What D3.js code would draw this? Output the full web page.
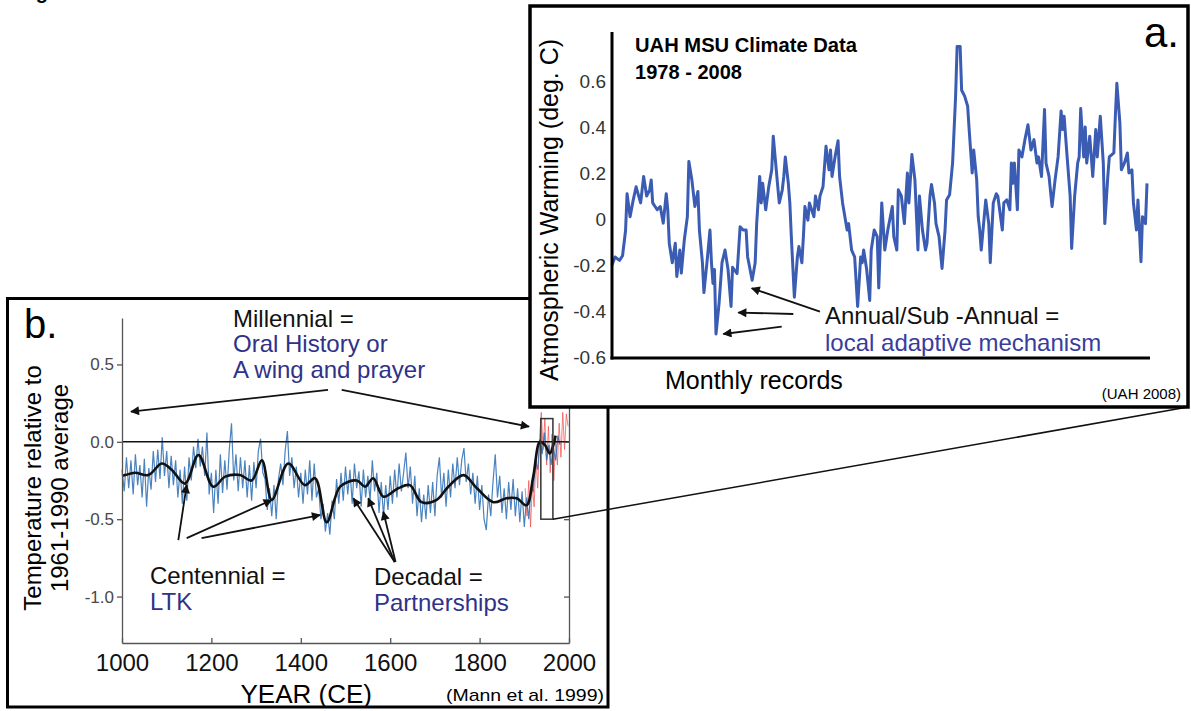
<!DOCTYPE html>
<html><head><meta charset="utf-8">
<script src="https://cdn.jsdelivr.net/npm/d3@7"></script>
<style>
body{margin:0;background:#fff;}
text{font-family:"Liberation Sans",Arial,Helvetica,sans-serif;}
</style></head>
<body>
<svg id="c" width="1191" height="711"></svg>
<script>
// ---------- Panel b data (Mann et al. 1999 reconstruction) ----------
const mannStartYear = 1000, mannStep = 5;
const mannBlue = [
-0.18,-0.32,-0.10,-0.30,-0.12,-0.34,-0.08,-0.28,-0.15,-0.36,
-0.11,-0.42,-0.17,-0.31,-0.06,-0.26,-0.05,-0.24,0.03,-0.22,
-0.06,-0.30,-0.09,-0.28,-0.12,-0.36,-0.18,-0.40,-0.16,-0.38,
-0.10,-0.25,-0.03,-0.17,0.02,-0.16,-0.03,-0.22,0.06,-0.34,
-0.20,-0.46,-0.18,-0.40,-0.08,-0.33,-0.12,-0.31,-0.05,0.12,
-0.25,-0.08,-0.32,-0.10,-0.30,-0.12,-0.36,-0.15,-0.38,-0.13,
-0.30,-0.06,0.02,-0.20,-0.24,-0.44,-0.30,-0.48,-0.28,-0.50,
-0.24,-0.14,-0.28,-0.06,0.07,-0.22,-0.10,-0.30,-0.16,-0.36,
-0.20,-0.40,-0.18,-0.34,-0.12,-0.38,-0.14,-0.36,-0.30,-0.50,
-0.40,-0.58,-0.46,-0.60,-0.38,-0.50,-0.24,-0.40,-0.20,-0.38,
-0.16,-0.34,-0.18,-0.40,-0.14,-0.30,-0.19,-0.42,-0.18,-0.36,
-0.22,-0.38,-0.12,-0.32,-0.20,-0.46,-0.26,-0.48,-0.28,-0.44,
-0.22,-0.40,-0.18,-0.36,-0.14,-0.32,-0.20,-0.07,-0.30,-0.16,
-0.40,-0.22,-0.48,-0.30,-0.52,-0.34,-0.50,-0.28,-0.46,-0.26,
-0.48,-0.22,-0.10,-0.36,-0.20,-0.42,-0.18,-0.36,-0.14,-0.30,
-0.10,-0.28,-0.12,-0.04,-0.26,-0.14,-0.34,-0.20,-0.40,-0.22,
-0.44,-0.28,-0.50,-0.57,-0.34,-0.48,-0.26,-0.08,-0.36,-0.22,
-0.46,-0.30,-0.50,-0.26,-0.44,-0.24,-0.48,-0.30,-0.52,-0.32,
-0.55,-0.36,-0.50,-0.30,-0.32,-0.12,-0.18,0.02,-0.08,0.06,
-0.12,-0.02,-0.15,-0.04,-0.12,0.04,-0.02];
const instrStartYear = 1902, instrStep = 4;
const instrRed = [-0.30,-0.48,-0.25,-0.55,-0.28,-0.42,-0.10,-0.30,0.02,0.19,
-0.05,0.15,-0.15,0.10,-0.20,0.05,-0.25,0.02,-0.15,0.12,-0.10,0.19,-0.05,0.18,0.10];
const smoothYears = [1000,1007,1029,1059,1089,1111,1141,1171,1204,1231,1264,1290,1313,1335,1372,1409,1432,1458,1488,1525,1544,1562,1585,1618,1644,1670,1704,1730,1764,1794,1831,1860,1883,1905,1920,1935,1946,1957,1964,1970];
const smoothTemps = [-0.22,-0.215,-0.20,-0.215,-0.14,-0.18,-0.27,-0.085,-0.29,-0.225,-0.215,-0.25,-0.12,-0.375,-0.14,-0.28,-0.235,-0.52,-0.29,-0.25,-0.29,-0.235,-0.355,-0.30,-0.28,-0.39,-0.375,-0.29,-0.215,-0.30,-0.39,-0.365,-0.365,-0.41,-0.225,0.0,-0.02,-0.075,-0.03,0.04];
const yearTicks = [1000,1200,1400,1600,1800,2000];
const tempTicksB = [-1.0,-0.5,0.0,0.5];
const insetYears = [1937,1964], insetTemps = [-0.5,0.15];

// ---------- Panel a data (UAH MSU monthly, months since Jan 1979) ----------
const uahMonth = [
0,2,5,7,9,10,12,14,16,19, 21,23,25,26,27,30,32,34,36,37,
38,40,42,43,45,46,48,50,51,53, 55,57,58,60,61,63,65,66,67,68,
69,71,73,75,77,79,80,83,85,87, 89,90,93,95,96,98,99,100,102,104,
106,107,109,110,111,113,114,115,117,118, 119,121,123,124,126,127,128,130,131,134,
135,137,138,140,142,144,145,146,148,150, 151,153,156,157,159,161,163,165,166,167,
169,171,172,174,176,177,179,181,183,186, 187,189,190,192,194,196,197,199,201,203,
204,206,208,209,211,212,214,215,217,219, 221,222,224,226,228,229,231,232,234,236,
237,239,240,242,243,244,245,247,248,250, 251,253,255,256,259,260,262,264,265,266,
267,269,270,272,274,276,278,280,282,283, 285,287,288,290,292,294,296,298,299,300,
302,304,305,307,309,310,311,313,314,315, 317,319,321,322,324,326,327,329,330,333,
334,335,337,338,340,342,343,345,346,348, 349,351,352,354,355];
const uahAnom = [
-0.20,-0.165,-0.18,-0.16,-0.05,0.11,0.01,0.08,0.14,0.07,
0.185,0.10,0.127,0.17,0.07,0.04,0.054,-0.018,0.11,0.04,
-0.105,-0.19,-0.105,-0.25,-0.135,-0.235,-0.09,0.01,0.25,0.17,
0.054,0.12,-0.048,-0.19,-0.32,-0.19,-0.048,-0.19,-0.28,-0.22,
-0.50,-0.37,-0.19,-0.135,-0.22,-0.38,-0.21,-0.237,-0.034,-0.048,
-0.048,-0.165,-0.266,-0.19,-0.02,0.185,0.07,0.155,0.04,0.14,
0.214,0.36,0.214,0.14,0.07,0.127,0.185,0.27,0.155,0.07,
-0.077,-0.34,-0.165,-0.12,-0.19,-0.077,0.054,-0.005,0.07,0.01,
0.10,0.04,0.10,0.14,0.316,0.214,0.30,0.185,0.27,0.34,
0.185,0.07,-0.048,-0.02,-0.135,-0.165,-0.38,-0.165,-0.19,-0.135,
-0.22,-0.354,-0.135,-0.048,-0.077,-0.30,0.07,-0.135,-0.048,0.054,
-0.077,-0.135,0.127,0.10,-0.02,0.20,0.07,0.28,0.17,-0.135,
0.10,-0.048,-0.135,-0.106,0.10,0.15,0.07,-0.02,-0.077,-0.215,
-0.048,0.083,0.105,0.243,0.534,0.75,0.75,0.56,0.534,0.49,
0.389,0.20,0.30,0.17,0.01,-0.048,-0.135,0.01,0.083,-0.02,
-0.19,0.07,0.11,0.10,-0.048,0.07,0.083,0.04,0.243,0.155,
0.243,0.04,0.30,0.27,0.345,0.41,0.30,0.345,0.243,0.27,
0.185,0.476,0.243,0.185,0.054,0.17,0.27,0.47,0.389,0.447,
0.27,0.10,-0.128,0.10,0.243,0.27,0.48,0.27,0.40,0.243,
0.36,0.185,0.389,0.27,0.447,0.243,-0.02,0.185,0.27,0.287,
0.447,0.59,0.418,0.214,0.243,0.287,0.20,0.214,0.07,-0.048,
0.083,-0.186,0.01,-0.02,0.155];
const tempTicksA = [-0.6,-0.4,-0.2,0,0.2,0.4,0.6];

// annotation arrows in data units [x0,y0,x1,y1]
const arrowsB = [[1461,0.335,1020,0.195],[1491.5,0.335,1910.5,0.098],
 [1126,-0.635,1144.7,-0.279],[1144.7,-0.622,1335,-0.376],[1178,-0.622,1443,-0.473],
 [1610,-0.777,1517.5,-0.365],[1610,-0.777,1551,-0.365],[1612,-0.777,1584.6,-0.452]];
const arrowsA = [[138,-0.403,92.7,-0.301],[120.3,-0.413,83.8,-0.407],[112.6,-0.468,73.9,-0.50]];

const svg = d3.select("#c");
const defs = svg.append("defs");
defs.append("marker").attr("id","ah").attr("viewBox","0 0 10 10").attr("refX",9).attr("refY",5)
  .attr("markerWidth",12).attr("markerHeight",9).attr("markerUnits","userSpaceOnUse").attr("orient","auto")
  .append("path").attr("d","M0,0L10,5L0,10z").attr("fill","#111");

svg.append("rect").attr("width",1191).attr("height",711).attr("fill","#fff");
// cut-off heading at very top (only the descender shows, as in the source)
svg.append("text").attr("x",18).attr("y",-1).attr("font-size",20).attr("font-weight","bold").text("Fig");

// ================= Panel b =================
const xB = d3.scaleLinear([1000,2000],[122,569]);
const yB = d3.scaleLinear([-1.3,0.8],[643,318]);
const gB = svg.append("g");

const lineB = d3.line().x(d=>xB(d[0])).y(d=>yB(d[1]));
const redPts = instrRed.map((v,i)=>[instrStartYear+i*instrStep, v]);
const bluePts = mannBlue.map((v,i)=>[mannStartYear+i*mannStep, v]);
gB.append("path").attr("d",lineB(redPts)).attr("fill","none").attr("stroke","#f04a4a").attr("stroke-width",1).attr("opacity",0.7);
gB.append("path").attr("d",lineB(bluePts)).attr("fill","none").attr("stroke","#2c6db3").attr("stroke-width",1.2).attr("opacity",0.85);
gB.append("path").attr("d",d3.line().x(d=>xB(d[0])).y(d=>yB(d[1])).curve(d3.curveCatmullRom)(smoothYears.map((y,i)=>[y,smoothTemps[i]])))
  .attr("fill","none").attr("stroke","#111").attr("stroke-width",2.6);

// zero line
gB.append("line").attr("x1",xB(1000)).attr("x2",xB(2000)).attr("y1",yB(0)).attr("y2",yB(0)).attr("stroke","#111").attr("stroke-width",1.5);
// inset box
gB.append("rect").attr("x",xB(insetYears[0])).attr("y",yB(insetTemps[1]))
  .attr("width",xB(insetYears[1])-xB(insetYears[0])).attr("height",yB(insetTemps[0])-yB(insetTemps[1]))
  .attr("fill","none").attr("stroke","#333").attr("stroke-width",1.5);

const fmt = d=> d===0? "0.0" : d.toFixed(1);
const axL = gB.append("g").attr("transform",`translate(${xB(1000)},0)`)
  .call(d3.axisLeft(yB).tickValues(tempTicksB).tickSize(5).tickSizeOuter(0).tickPadding(3).tickFormat(fmt));
axL.selectAll("text").attr("font-size",17).attr("fill","#484848").attr("font-family","Liberation Sans, Arial");
const axR = gB.append("g").attr("transform",`translate(${xB(2000)},0)`)
  .call(d3.axisLeft(yB).tickValues(tempTicksB).tickSize(5).tickSizeOuter(0).tickFormat(""));
const axBt = gB.append("g").attr("transform",`translate(0,${yB(-1.3)})`)
  .call(d3.axisBottom(xB).tickValues(yearTicks).tickSize(-5).tickSizeOuter(0).tickPadding(11).tickFormat(d3.format("d")));
axBt.selectAll("text").attr("font-size",24).attr("fill","#111").attr("font-family","Liberation Sans, Arial");
[axL,axR,axBt].forEach(a=>{a.selectAll("path,line").attr("stroke","#555").attr("stroke-width",1.3);});

// axis titles
gB.append("text").attr("transform","translate(41,488) rotate(-90)").attr("text-anchor","middle").attr("font-size",24).text("Temperature relative to");
gB.append("text").attr("transform","translate(68,488) rotate(-90)").attr("text-anchor","middle").attr("font-size",24).text("1961-1990 average");
gB.append("text").attr("x",305).attr("y",703).attr("text-anchor","end").attr("dx",67).attr("font-size",26).text("YEAR (CE)");
gB.append("text").attr("x",604).attr("y",701).attr("text-anchor","end").attr("font-size",17)
  .attr("font-family","'Liberation Sans Narrow','Arial Narrow','Liberation Sans',Arial")
  .attr("textLength",158).attr("lengthAdjust","spacingAndGlyphs").text("(Mann et al. 1999)");
gB.append("text").attr("x",24).attr("y",338).attr("font-size",40).text("b.");

// annotations b
const blueTxt = "#2f3288";
const ann = (g,x,y,t,c)=>g.append("text").attr("x",x).attr("y",y).attr("font-size",24).attr("fill",c).text(t);
ann(gB,233,327,"Millennial =","#111");
ann(gB,233,352,"Oral History or",blueTxt);
ann(gB,233,378,"A wing and prayer",blueTxt);
ann(gB,150,584,"Centennial =","#111");
ann(gB,150,610,"LTK",blueTxt);
ann(gB,374,585,"Decadal =","#111");
ann(gB,374,611,"Partnerships",blueTxt);
gB.selectAll(null).data(arrowsB).join("line")
  .attr("x1",d=>xB(d[0])).attr("y1",d=>yB(d[1])).attr("x2",d=>xB(d[2])).attr("y2",d=>yB(d[3]))
  .attr("stroke","#111").attr("stroke-width",1.8).attr("marker-end","url(#ah)");

// panel b frame
svg.append("rect").attr("x",7.5).attr("y",298.5).attr("width",600.5).attr("height",408.5).attr("fill","none").attr("stroke","#000").attr("stroke-width",3);

// connector line
const frameA = {x:530,y:6,w:658,h:401};
svg.append("line").attr("x1",xB(insetYears[1])).attr("y1",yB(insetTemps[0])).attr("x2",frameA.x+frameA.w).attr("y2",frameA.y+frameA.h)
  .attr("stroke","#111").attr("stroke-width",1.5);

// ================= Panel a =================
svg.append("rect").attr("x",frameA.x).attr("y",frameA.y).attr("width",frameA.w).attr("height",frameA.h).attr("fill","#fff").attr("stroke","#000").attr("stroke-width",3.5);
const xA = d3.scaleLinear([0,355],[612,1147]);
const yA = d3.scaleLinear([-0.6,0.8],[357,35]);
const gA = svg.append("g");
gA.append("path").attr("d",d3.line().x((d,i)=>xA(uahMonth[i])).y(d=>yA(d))(uahAnom))
  .attr("fill","none").attr("stroke","#3b5cb3").attr("stroke-width",3).attr("stroke-linejoin","round");
const axA = gA.append("g").attr("transform",`translate(${xA(0)},0)`)
  .call(d3.axisLeft(yA).tickValues(tempTicksA).tickSize(0).tickPadding(6).tickFormat(d=>d===0?"0":d.toFixed(1)));
axA.select(".domain").remove();
axA.selectAll("text").attr("font-size",19).attr("fill","#333").attr("font-family","Liberation Sans, Arial");
gA.append("line").attr("x1",xA(0)).attr("x2",xA(0)).attr("y1",32).attr("y2",yA(-0.6)+2.5).attr("stroke","#000").attr("stroke-width",3);
gA.append("line").attr("x1",xA(0)-1.5).attr("x2",1150).attr("y1",yA(-0.6)+1).attr("y2",yA(-0.6)+1).attr("stroke","#000").attr("stroke-width",3);

gA.append("text").attr("transform","translate(558,210) rotate(-90)").attr("text-anchor","middle").attr("font-size",25).text("Atmospheric Warming (deg. C)");
gA.append("text").attr("x",665).attr("y",389).attr("font-size",25).text("Monthly records");
gA.append("text").attr("x",1181).attr("y",399).attr("text-anchor","end").attr("font-size",15).text("(UAH 2008)");
gA.append("text").attr("x",1144).attr("y",47).attr("font-size",42).text("a.");
const tf = "'Liberation Sans Narrow','Arial Narrow','Liberation Sans',Arial,sans-serif";
gA.append("text").attr("x",635).attr("y",52).attr("font-size",20).attr("font-weight","bold").attr("font-family",tf)
  .attr("textLength",222).attr("lengthAdjust","spacingAndGlyphs").text("UAH MSU Climate Data");
gA.append("text").attr("x",635).attr("y",78.5).attr("font-size",20).attr("font-weight","bold").attr("font-family",tf)
  .attr("textLength",107).attr("lengthAdjust","spacingAndGlyphs").text("1978 - 2008");
ann(gA,825,324,"Annual/Sub -Annual =","#111");
ann(gA,825,351,"local adaptive mechanism","#3a3c9c");
gA.selectAll(null).data(arrowsA).join("line")
  .attr("x1",d=>xA(d[0])).attr("y1",d=>yA(d[1])).attr("x2",d=>xA(d[2])).attr("y2",d=>yA(d[3]))
  .attr("stroke","#111").attr("stroke-width",1.8).attr("marker-end","url(#ah)");
</script>
</body></html>
